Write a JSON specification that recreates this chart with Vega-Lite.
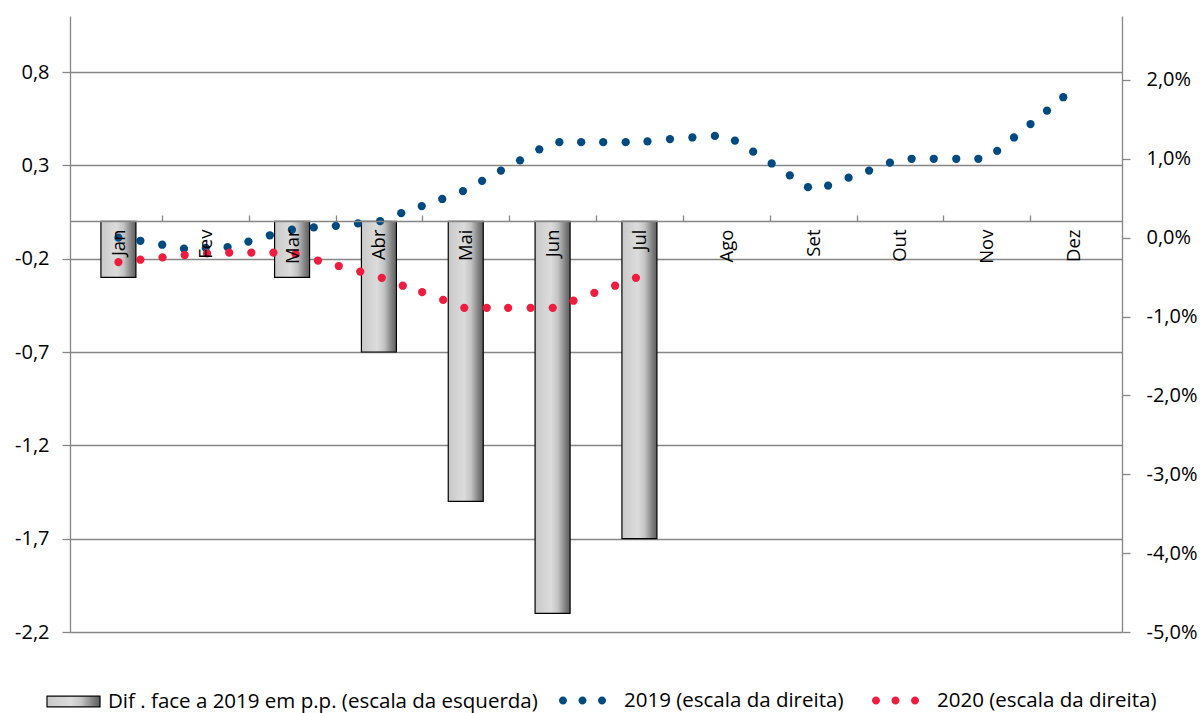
{
  "$schema": "https://vega.github.io/schema/vega-lite/v6.json",
  "width": 1052,
  "height": 616,
  "autosize": {"type": "none"},
  "padding": {"left": 70, "top": 16, "right": 80, "bottom": 81},
  "background": "white",
  "config": {
    "view": {"stroke": null},
    "font": "Open Sans",
    "locale": {"number": {"decimal": ",", "thousands": ".", "grouping": [3], "currency": ["", " €"], "minus": "-"}},
    "axis": {"labelColor": "#000000", "labelFont": "Open Sans", "labelFontSize": 20, "domainColor": "#868686", "tickColor": "#868686", "gridColor": "#868686", "gridOpacity": 1, "domainWidth": 1.3, "tickWidth": 1.3, "gridWidth": 1.3},
    "legend": {"labelFont": "Open Sans", "labelFontSize": 20.5, "labelColor": "#000000", "labelLimit": 0}
  },
  "layer": [
    {
      "data": {"values": [
        {"m": 0, "v": -0.3, "s": "Dif . face a 2019 em p.p. (escala da esquerda)"},
        {"m": 2, "v": -0.3, "s": "Dif . face a 2019 em p.p. (escala da esquerda)"},
        {"m": 3, "v": -0.7, "s": "Dif . face a 2019 em p.p. (escala da esquerda)"},
        {"m": 4, "v": -1.5, "s": "Dif . face a 2019 em p.p. (escala da esquerda)"},
        {"m": 5, "v": -2.1, "s": "Dif . face a 2019 em p.p. (escala da esquerda)"},
        {"m": 6, "v": -1.7, "s": "Dif . face a 2019 em p.p. (escala da esquerda)"}
      ]},
      "mark": {
        "type": "bar",
        "size": 35,
        "strokeWidth": 1.2,
        "fill": {"gradient": "linear", "x1": 0, "y1": 0, "x2": 1, "y2": 0,
          "stops": [
            {"offset": 0, "color": "#c9c9c9"},
            {"offset": 0.45, "color": "#dcdcdc"},
            {"offset": 0.65, "color": "#c4c4c4"},
            {"offset": 0.88, "color": "#7c7c7c"},
            {"offset": 1, "color": "#5e5e5e"}
          ]}
      },
      "encoding": {
        "x": {"field": "m", "type": "quantitative",
          "scale": {"domain": [-0.5, 11.5], "nice": false, "zero": false},
          "axis": {"orient": "bottom", "offset": -411, "title": null, "values": [0,1,2,3,4,5,6,7,8,9,10,11],
            "labelExpr": "['Jan','Fev','Mar','Abr','Mai','Jun','Jul','Ago','Set','Out','Nov','Dez'][datum.value]",
            "labelAngle": -90, "labelAlign": "right", "labelBaseline": "middle", "labelPadding": 8, "ticks": false, "grid": false, "domain": true, "zindex": 1, "labelFontSize": 18.5}},
        "y": {"field": "v", "type": "quantitative",
          "scale": {"domain": [-2.2, 1.1], "nice": false, "zero": false},
          "axis": {"orient": "left", "title": null, "values": [-2.2, -1.7, -1.2, -0.7, -0.2, 0.3, 0.8],
            "labelExpr": "replace(replace(format(datum.value, '.1f'), '.', ','), '\u2212', '-')",
            "grid": true, "tickSize": 8, "labelPadding": 13}},
        "stroke": {"field": "s", "type": "nominal",
          "scale": {"domain": ["Dif . face a 2019 em p.p. (escala da esquerda)"], "range": ["#000000"]},
          "legend": {"title": null, "orient": "none", "legendX": -24, "legendY": 658,
            "symbolType": "M-1,-0.2H1V0.2H-1Z", "symbolSize": 2809, "symbolFillColor": "#c8c8c8", "symbolStrokeWidth": 1.2, "labelOffset": 7}}
      }
    },
    {
      "data": {"values": [
        {"m": 0.0, "v": 0.00, "s": "2019 (escala da direita)"},
        {"m": 0.253, "v": -0.04, "s": "2019 (escala da direita)"},
        {"m": 0.504, "v": -0.09, "s": "2019 (escala da direita)"},
        {"m": 0.755, "v": -0.14, "s": "2019 (escala da direita)"},
        {"m": 1.006, "v": -0.13, "s": "2019 (escala da direita)"},
        {"m": 1.257, "v": -0.12, "s": "2019 (escala da direita)"},
        {"m": 1.497, "v": -0.05, "s": "2019 (escala da direita)"},
        {"m": 1.744, "v": 0.03, "s": "2019 (escala da direita)"},
        {"m": 1.998, "v": 0.10, "s": "2019 (escala da direita)"},
        {"m": 2.25, "v": 0.13, "s": "2019 (escala da direita)"},
        {"m": 2.504, "v": 0.15, "s": "2019 (escala da direita)"},
        {"m": 2.759, "v": 0.18, "s": "2019 (escala da direita)"},
        {"m": 3.014, "v": 0.21, "s": "2019 (escala da direita)"},
        {"m": 3.257, "v": 0.31, "s": "2019 (escala da direita)"},
        {"m": 3.493, "v": 0.40, "s": "2019 (escala da direita)"},
        {"m": 3.729, "v": 0.49, "s": "2019 (escala da direita)"},
        {"m": 3.968, "v": 0.59, "s": "2019 (escala da direita)"},
        {"m": 4.188, "v": 0.72, "s": "2019 (escala da direita)"},
        {"m": 4.405, "v": 0.85, "s": "2019 (escala da direita)"},
        {"m": 4.625, "v": 0.98, "s": "2019 (escala da direita)"},
        {"m": 4.847, "v": 1.12, "s": "2019 (escala da direita)"},
        {"m": 5.078, "v": 1.21, "s": "2019 (escala da direita)"},
        {"m": 5.329, "v": 1.21, "s": "2019 (escala da direita)"},
        {"m": 5.583, "v": 1.21, "s": "2019 (escala da direita)"},
        {"m": 5.842, "v": 1.21, "s": "2019 (escala da direita)"},
        {"m": 6.093, "v": 1.22, "s": "2019 (escala da direita)"},
        {"m": 6.352, "v": 1.25, "s": "2019 (escala da direita)"},
        {"m": 6.61, "v": 1.27, "s": "2019 (escala da direita)"},
        {"m": 6.869, "v": 1.29, "s": "2019 (escala da direita)"},
        {"m": 7.1, "v": 1.23, "s": "2019 (escala da direita)"},
        {"m": 7.31, "v": 1.09, "s": "2019 (escala da direita)"},
        {"m": 7.523, "v": 0.94, "s": "2019 (escala da direita)"},
        {"m": 7.732, "v": 0.79, "s": "2019 (escala da direita)"},
        {"m": 7.941, "v": 0.64, "s": "2019 (escala da direita)"},
        {"m": 8.173, "v": 0.66, "s": "2019 (escala da direita)"},
        {"m": 8.409, "v": 0.76, "s": "2019 (escala da direita)"},
        {"m": 8.645, "v": 0.85, "s": "2019 (escala da direita)"},
        {"m": 8.885, "v": 0.95, "s": "2019 (escala da direita)"},
        {"m": 9.135, "v": 1.00, "s": "2019 (escala da direita)"},
        {"m": 9.39, "v": 1.00, "s": "2019 (escala da direita)"},
        {"m": 9.649, "v": 1.00, "s": "2019 (escala da direita)"},
        {"m": 9.903, "v": 1.00, "s": "2019 (escala da direita)"},
        {"m": 10.12, "v": 1.10, "s": "2019 (escala da direita)"},
        {"m": 10.314, "v": 1.27, "s": "2019 (escala da direita)"},
        {"m": 10.504, "v": 1.44, "s": "2019 (escala da direita)"},
        {"m": 10.694, "v": 1.61, "s": "2019 (escala da direita)"},
        {"m": 10.881, "v": 1.78, "s": "2019 (escala da direita)"},
        {"m": 0.0, "v": -0.31, "s": "2020 (escala da direita)"},
        {"m": 0.253, "v": -0.28, "s": "2020 (escala da direita)"},
        {"m": 0.508, "v": -0.25, "s": "2020 (escala da direita)"},
        {"m": 0.763, "v": -0.22, "s": "2020 (escala da direita)"},
        {"m": 1.021, "v": -0.20, "s": "2020 (escala da direita)"},
        {"m": 1.276, "v": -0.19, "s": "2020 (escala da direita)"},
        {"m": 1.531, "v": -0.19, "s": "2020 (escala da direita)"},
        {"m": 1.785, "v": -0.19, "s": "2020 (escala da direita)"},
        {"m": 2.041, "v": -0.21, "s": "2020 (escala da direita)"},
        {"m": 2.298, "v": -0.29, "s": "2020 (escala da direita)"},
        {"m": 2.538, "v": -0.36, "s": "2020 (escala da direita)"},
        {"m": 2.785, "v": -0.43, "s": "2020 (escala da direita)"},
        {"m": 3.033, "v": -0.51, "s": "2020 (escala da direita)"},
        {"m": 3.275, "v": -0.61, "s": "2020 (escala da direita)"},
        {"m": 3.498, "v": -0.69, "s": "2020 (escala da direita)"},
        {"m": 3.74, "v": -0.79, "s": "2020 (escala da direita)"},
        {"m": 3.983, "v": -0.89, "s": "2020 (escala da direita)"},
        {"m": 4.242, "v": -0.89, "s": "2020 (escala da direita)"},
        {"m": 4.488, "v": -0.89, "s": "2020 (escala da direita)"},
        {"m": 4.747, "v": -0.89, "s": "2020 (escala da direita)"},
        {"m": 5.002, "v": -0.89, "s": "2020 (escala da direita)"},
        {"m": 5.241, "v": -0.80, "s": "2020 (escala da direita)"},
        {"m": 5.481, "v": -0.70, "s": "2020 (escala da direita)"},
        {"m": 5.72, "v": -0.61, "s": "2020 (escala da direita)"},
        {"m": 5.96, "v": -0.51, "s": "2020 (escala da direita)"}
      ]},
      "mark": {"type": "circle", "size": 68, "opacity": 1},
      "encoding": {
        "x": {"field": "m", "type": "quantitative",
          "axis": {"orient": "top", "offset": -205, "title": null, "values": [0.5,1.5,2.5,3.5,4.5,5.5,6.5,7.5,8.5,9.5,10.5],
            "labels": false, "ticks": true, "tickSize": 6, "domain": false, "grid": false}},
        "y": {"field": "v", "type": "quantitative",
          "scale": {"domain": [-5.0, 2.81], "nice": false, "zero": false},
          "axis": {"orient": "right", "title": null, "values": [-5, -4, -3, -2, -1, 0, 1, 2],
            "labelExpr": "replace(replace(format(datum.value, '.1f'), '.', ','), '\u2212', '-') + '%'",
            "grid": false, "tickSize": 8, "labelPadding": 16}},
        "color": {"field": "s", "type": "nominal",
          "scale": {"domain": ["2019 (escala da direita)", "2020 (escala da direita)"], "range": ["#004a80", "#ee1c3f"]},
          "legend": {"title": null, "orient": "none", "direction": "horizontal", "legendX": 488, "legendY": 660,
            "symbolType": "M-0.964,0a0.164,0.164 0 1,0 0.328,0a0.164,0.164 0 1,0 -0.328,0ZM-0.164,0a0.164,0.164 0 1,0 0.328,0a0.164,0.164 0 1,0 -0.328,0ZM0.636,0a0.164,0.164 0 1,0 0.328,0a0.164,0.164 0 1,0 -0.328,0Z",
            "symbolSize": 2380, "symbolStrokeWidth": 0, "labelOffset": 17, "columnPadding": 27}}
      }
    }
  ],
  "resolve": {"scale": {"y": "independent"}, "axis": {"x": "independent"}}
}
